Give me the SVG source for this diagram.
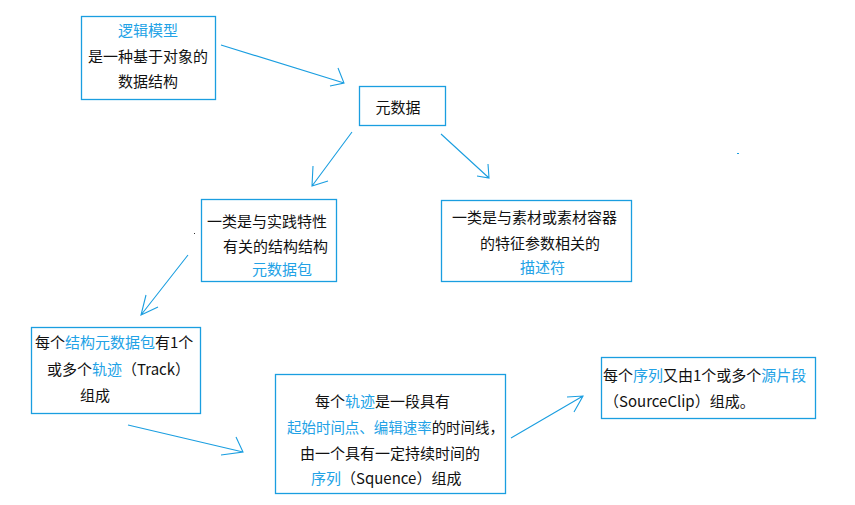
<svg xmlns="http://www.w3.org/2000/svg" width="855" height="505" viewBox="0 0 855 505">
<style>
.box{fill:#fff;stroke:#1a9ee0;stroke-width:1.3}
.t{font-family:"Microsoft YaHei","Noto Sans CJK SC","Noto Sans",sans-serif;font-size:15px;fill:#111}
.b{fill:#22a2e6}
.c{fill:none;stroke:#1a9ee0;stroke-width:1.1}
</style>
<rect width="855" height="505" fill="#fff"/>
<g id="connectors">
<path class="c" d="M221,45 L344,83 M338,68 L344,83 L330,86"/>
<path class="c" d="M352,132 L312,186 M313,166 L312,186 L328,181"/>
<path class="c" d="M441,134 L489,178 M488,164 L489,178 L477,176"/>
<path class="c" d="M188,255 L141,315 M146,295 L141,315 L158,307"/>
<path class="c" d="M128,425 L243,452 M236,437 L243,452 L221,455"/>
<path class="c" d="M511,438 L583,396 M567,397 L583,396 L574,412"/>
</g>
<g id="node-logic">
<rect class="box" x="81.5" y="16.5" width="134" height="83"/>
<text class="t b" x="148" y="36" text-anchor="middle">逻辑模型</text>
<text class="t" x="148" y="62" text-anchor="middle">是一种基于对象的</text>
<text class="t" x="148" y="87" text-anchor="middle">数据结构</text>
</g>
<g id="node-metadata">
<rect class="box" x="359.5" y="86.5" width="86" height="39"/>
<text class="t" x="398" y="113" text-anchor="middle">元数据</text>
</g>
<g id="node-struct">
<rect class="box" x="201.5" y="199.5" width="135" height="82"/>
<text class="t" x="207" y="227">一类是与实践特性</text>
<text class="t" x="223" y="252">有关的结构结构</text>
<text class="t b" x="252" y="275">元数据包</text>
</g>
<g id="node-desc">
<rect class="box" x="441.5" y="200.5" width="190" height="81"/>
<text class="t" x="452" y="223">一类是与素材或素材容器</text>
<text class="t" x="480" y="249">的特征参数相关的</text>
<text class="t b" x="520" y="273">描述符</text>
</g>
<g id="node-track">
<rect class="box" x="31.5" y="327.5" width="169" height="86"/>
<text class="t" x="35" y="348">每个<tspan class="b">结构元数据包</tspan>有1个</text>
<text class="t" x="47" y="375">或多个<tspan class="b">轨迹</tspan>（Track）</text>
<text class="t" x="80" y="401">组成</text>
</g>
<g id="node-timeline">
<rect class="box" x="275.5" y="374.5" width="230" height="119"/>
<text class="t" x="315" y="407">每个<tspan class="b">轨迹</tspan>是一段具有</text>
<text class="t" x="287" y="433" textLength="217" lengthAdjust="spacingAndGlyphs"><tspan class="b">起始时间点、编辑速率</tspan>的时间线，</text>
<text class="t" x="300" y="459">由一个具有一定持续时间的</text>
<text class="t" x="311" y="484"><tspan class="b">序列</tspan>（Squence）组成</text>
</g>
<g id="node-sequence">
<rect class="box" x="601.5" y="357.5" width="214" height="61"/>
<text class="t" x="603" y="381">每个<tspan class="b">序列</tspan>又由1个或多个<tspan class="b">源片段</tspan></text>
<text class="t" x="604" y="407">（SourceClip）组成。</text>
</g>
<rect x="194" y="233" width="1" height="1" fill="#333"/>
<rect x="737" y="153" width="2" height="1" fill="#1a9ee0"/>
</svg>
